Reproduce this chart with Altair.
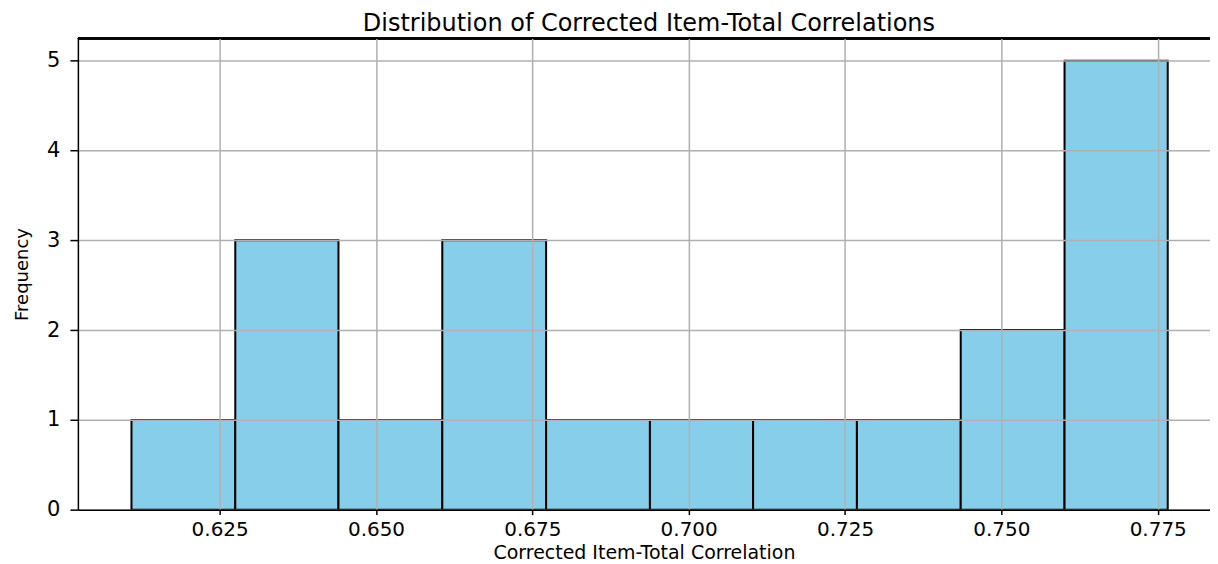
import altair as alt
import pandas as pd

# Histogram bins
bin_starts = [0.6109, 0.6275, 0.6440, 0.6606, 0.6772, 0.6938, 0.7103, 0.7269, 0.7435, 0.7601]
bin_ends = [0.6275, 0.6440, 0.6606, 0.6772, 0.6938, 0.7103, 0.7269, 0.7435, 0.7601, 0.7766]
counts = [1, 3, 1, 3, 1, 1, 1, 1, 2, 5]
x_ticks = [0.625, 0.650, 0.675, 0.700, 0.725, 0.750, 0.775]
y_ticks = [0, 1, 2, 3, 4, 5]
title_text = ["Distribution of Corrected Item-Total Correlations"]

df = pd.DataFrame({"start": bin_starts, "end": bin_ends, "count": counts})
title_df = pd.DataFrame({"t": title_text})

W, H = 1134, 472
FONT = "DejaVu Sans"

x_scale = alt.Scale(domain=[0.60233, 0.78336], nice=False, zero=False)
y_scale = alt.Scale(domain=[0, 5.25], nice=False, zero=True)

bars = alt.Chart(df).mark_rect(fill="#87CEEB", stroke="black", strokeWidth=2).encode(
    x=alt.X(
        "start:Q",
        scale=x_scale,
        axis=alt.Axis(
            values=x_ticks,
            format=".3f",
            title="Corrected Item-Total Correlation",
            grid=True,
            gridColor="#b0b0b0",
            gridWidth=1.5,
            domainColor="black",
            domainWidth=1.5,
            tickColor="black",
            tickWidth=1.5,
            tickSize=5,
            labelPadding=5,
            labelFontSize=20,
            labelFont=FONT,
            labelColor="black",
            titleFont=FONT,
            titleFontSize=19,
            titleFontWeight="normal",
            titleColor="black",
            titleBaseline="top",
            titleY=34,
            zindex=1,
        ),
    ),
    x2="end:Q",
    y=alt.Y(
        "count:Q",
        scale=y_scale,
        axis=alt.Axis(
            values=y_ticks,
            format="d",
            title="Frequency",
            grid=True,
            gridColor="#b0b0b0",
            gridWidth=1.5,
            domainColor="black",
            domainWidth=1.5,
            tickColor="black",
            tickWidth=1.5,
            tickSize=8,
            labelPadding=10,
            labelFontSize=21,
            labelFont=FONT,
            labelColor="black",
            titleFont=FONT,
            titleFontSize=18,
            titleFontWeight="normal",
            titleColor="black",
            titleBaseline="alphabetic",
            titleAngle=270,
            titleX=-50,
            titleY=H / 2,
            zindex=1,
        ),
    ),
    y2=alt.datum(0),
)

top_spine = alt.Chart(df).mark_rule(color="black", strokeWidth=1.5).encode(
    x=alt.value(0), x2=alt.value(W), y=alt.value(0)
)

title_mark = alt.Chart(title_df).mark_text(
    font=FONT, fontSize=24, color="black", align="center", baseline="alphabetic"
).encode(text="t:N", x=alt.value(572), y=alt.value(-7))

chart = (
    alt.layer(bars, top_spine, title_mark)
    .properties(
        width=W,
        height=H,
        autosize=alt.AutoSizeParams(type="none"),
        padding={"left": 70, "top": 30, "right": 0, "bottom": 56},
    )
    .configure_view(stroke=None)
)

chart.save("out.html", embed_options={"renderer": "svg", "actions": False})
